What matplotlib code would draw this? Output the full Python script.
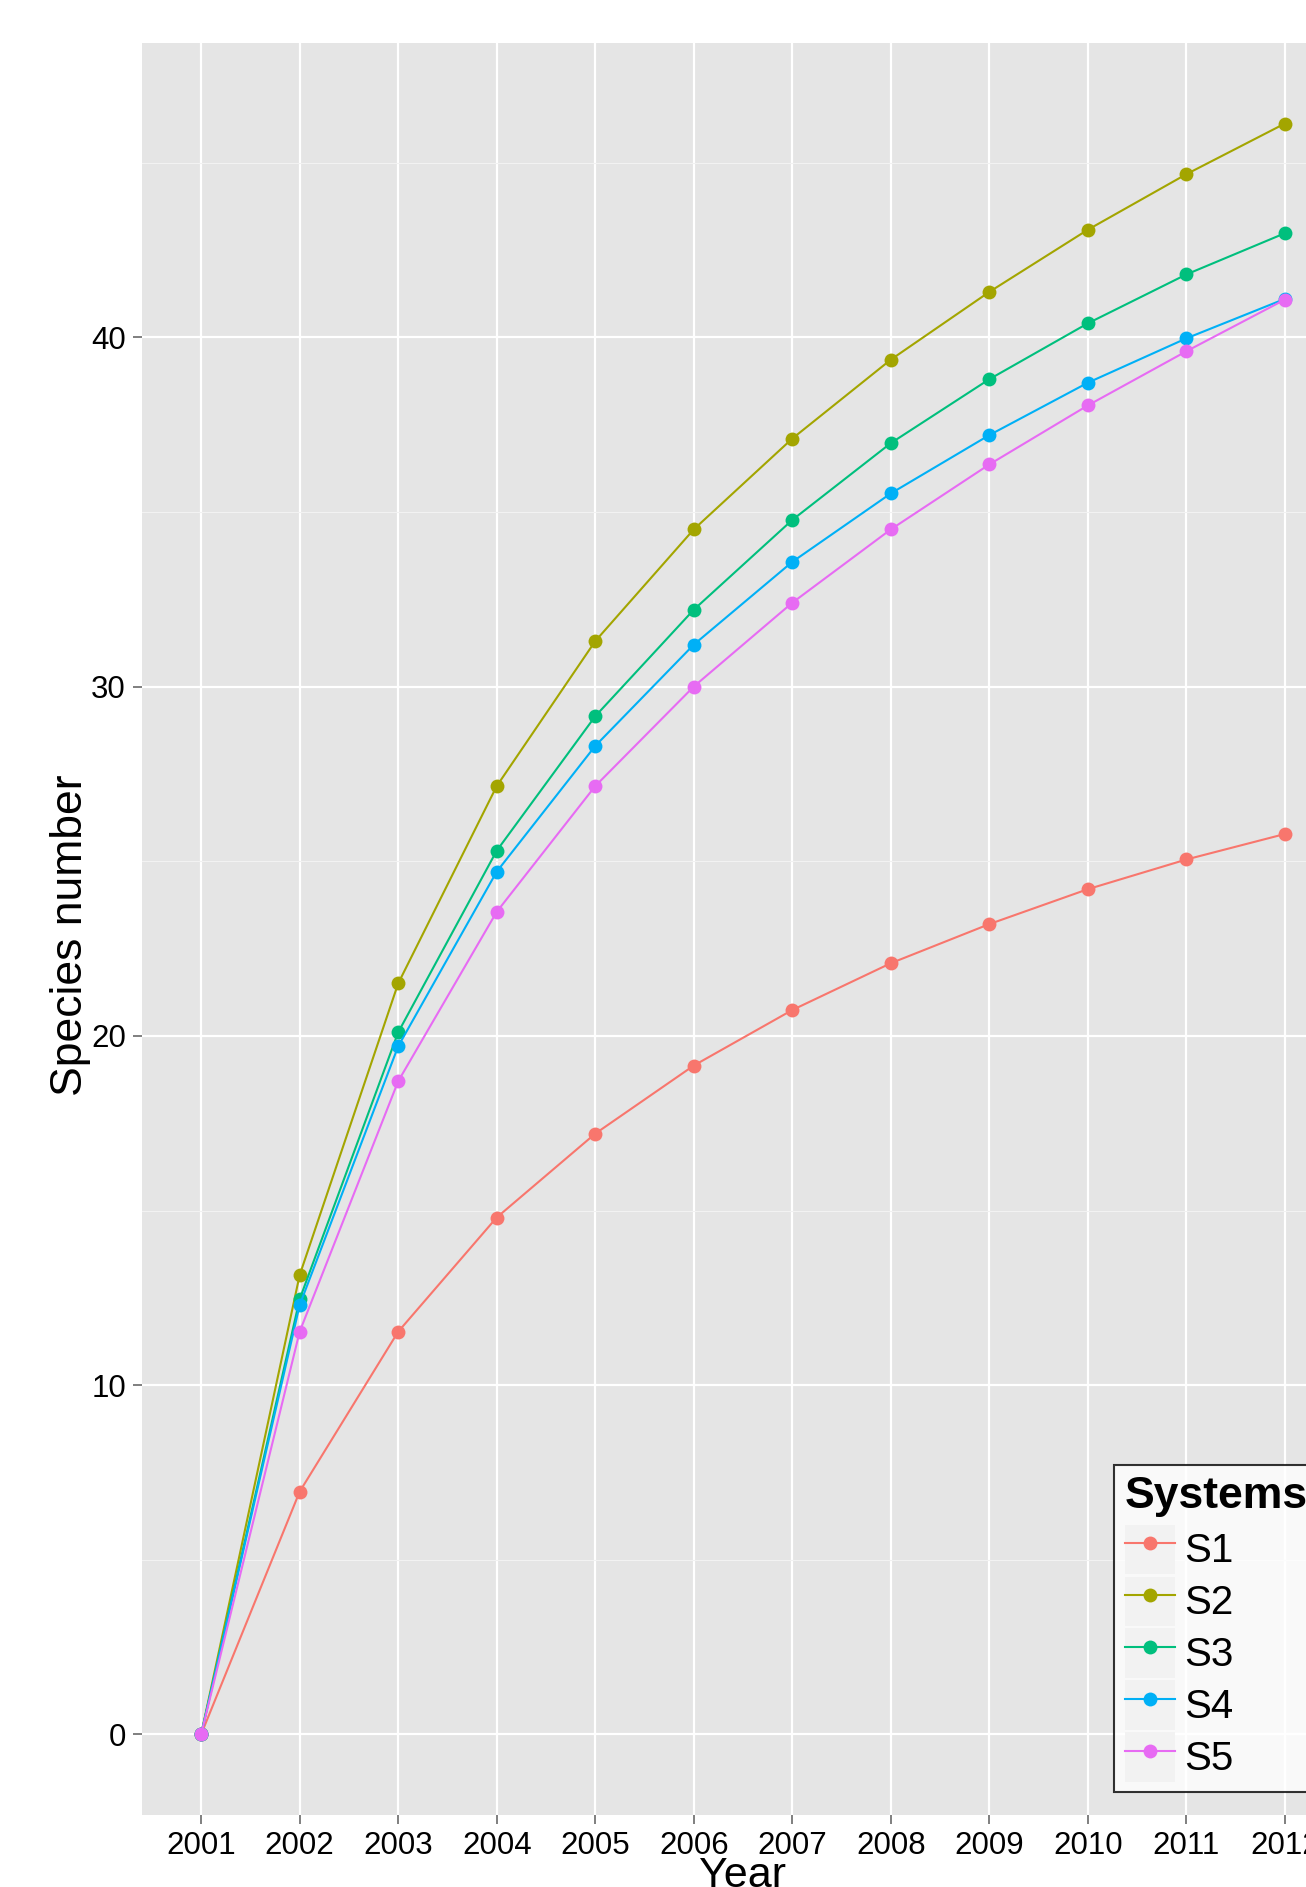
import matplotlib
matplotlib.use("Agg")
import matplotlib.pyplot as plt
from matplotlib.patches import Rectangle
from matplotlib.lines import Line2D
from matplotlib.legend_handler import HandlerTuple

plt.rcParams['font.family'] = ['Liberation Sans', 'DejaVu Sans']

years = [2001, 2002, 2003, 2004, 2005, 2006, 2007, 2008, 2009, 2010, 2011, 2012]
systems = ["S1", "S2", "S3", "S4", "S5"]
s1 = [0, 6.95, 11.53, 14.8, 17.2, 19.15, 20.74, 22.08, 23.2, 24.2, 25.05, 25.78]
s2 = [0, 13.15, 21.5, 27.15, 31.3, 34.5, 37.1, 39.36, 41.3, 43.08, 44.67, 46.12]
s3 = [0, 12.46, 20.1, 25.3, 29.15, 32.2, 34.77, 36.97, 38.8, 40.4, 41.8, 42.98]
s4 = [0, 12.29, 19.7, 24.7, 28.3, 31.2, 33.57, 35.53, 37.2, 38.7, 39.97, 41.1]
s5 = [0, 11.53, 18.7, 23.55, 27.15, 30.0, 32.4, 34.5, 36.36, 38.05, 39.6, 41.08]
series = [s1, s2, s3, s4, s5]
colors = ["#F8766D", "#A3A500", "#00BF7D", "#00B0F6", "#E76BF3"]
yticks = [0, 10, 20, 30, 40]
minor_yticks = [5, 15, 25, 35, 45]

W, H = 1306, 1887
dpi = 100
fig = plt.figure(figsize=(W / dpi, H / dpi), dpi=dpi)
fig.patch.set_facecolor("white")

# axes geometry in pixels (panel extends beyond the right edge like the original)
left_px, right_px, top_px, bottom_px = 142, 1344, 43, 1815
ax = fig.add_axes([left_px / W, (H - bottom_px) / H,
                   (right_px - left_px) / W, (bottom_px - top_px) / H])
ax.set_facecolor("#E5E5E5")
for sp in ax.spines.values():
    sp.set_visible(False)

xpos = list(range(len(years)))
handles = []
for name, vals, c in zip(systems, series, colors):
    ax.plot(xpos, vals, color=c, lw=1.5, marker="o", ms=10, mew=0, zorder=3,
            solid_capstyle="butt")
    key_bg = Rectangle((0, 0), 1, 1, facecolor="#F2F2F2", edgecolor="none")
    ln = Line2D([], [], color=c, lw=1.5, marker="o", ms=10, mew=0)
    handles.append((key_bg, ln))

ax.set_xlim(-0.6, len(years) - 1 + 0.6)
ymax = max(max(s) for s in series)
ymin = 0
rng = ymax - ymin
ax.set_ylim(ymin - 0.05 * rng, ymax + 0.05 * rng)

ax.set_xticks(xpos)
ax.set_xticklabels([str(y) for y in years])
ax.set_yticks(yticks)
ax.set_yticks(minor_yticks, minor=True)
ax.grid(True, which="major", color="white", lw=1.6, zorder=0)
ax.grid(True, which="minor", axis="y", color="#F2F2F2", lw=0.8, zorder=0)
ax.set_axisbelow(True)
ax.tick_params(axis="both", which="major", length=6.5, width=1.4, color="#7F7F7F",
               labelsize=22.5, labelcolor="black", pad=5)
ax.tick_params(axis="y", which="minor", length=0)

fig.text(71 / W, 1 - 935 / H, "Species number", rotation=90, ha="center",
         va="center", fontsize=32)
fig.text(743 / W, 1 - 1856 / H, "Year", ha="center", va="top", fontsize=31)

leg = fig.legend(handles, systems, handler_map={tuple: HandlerTuple(ndivide=1, pad=0)},
                 loc="upper left", bbox_to_anchor=(1114 / W, 1 - 1465 / H),
                 title="Systems", fontsize=29, title_fontsize=32,
                 frameon=True, fancybox=False, edgecolor="black",
                 handlelength=1.24, handleheight=1.5, handletextpad=0.22,
                 labelspacing=0.07, borderpad=0.27, borderaxespad=0,
                 alignment="left")
leg.get_title().set_fontweight("bold")
leg.get_frame().set_linewidth(1.5)
# a little extra space between the title and the keys
leg._legend_box.sep = 0.07 * 29 + 3.5

fig.savefig("out.png", dpi=dpi)
